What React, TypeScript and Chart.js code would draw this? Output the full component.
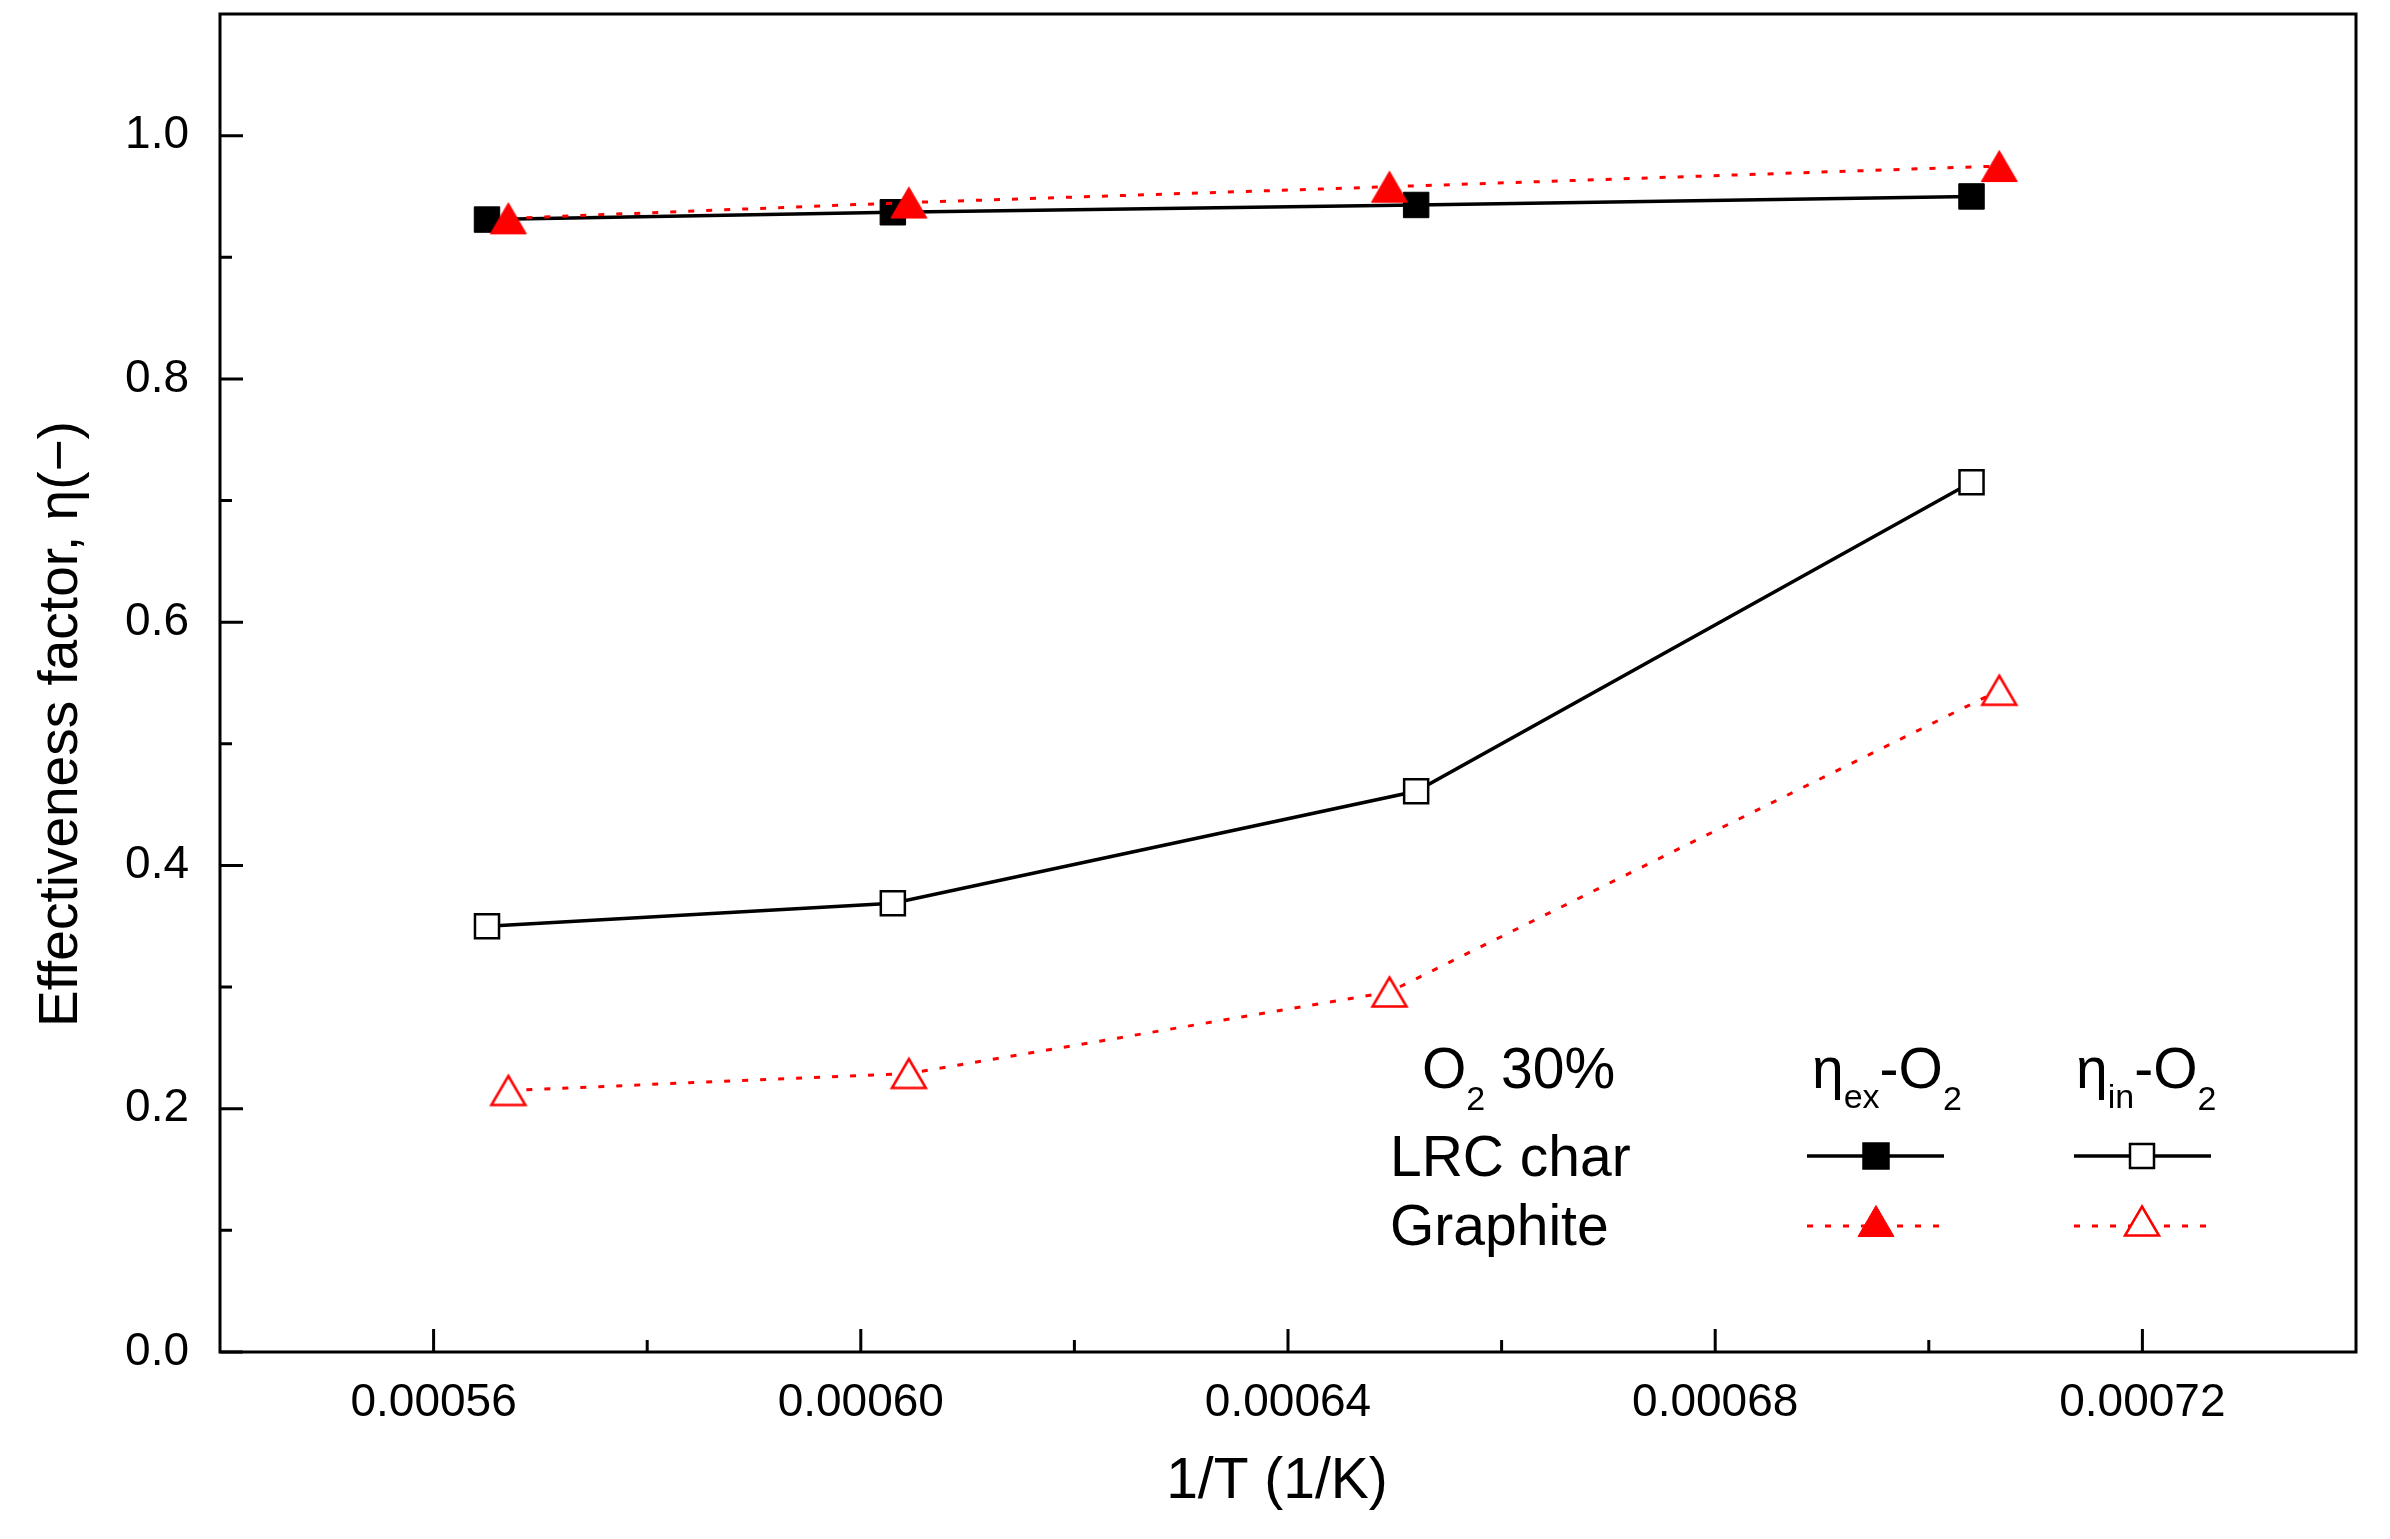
import React, { useEffect, useRef } from 'react';
import { Chart, registerables } from 'chart.js';
import type { ChartConfiguration } from 'chart.js';

Chart.register(...registerables);

// 1/T (1/K) of each run
const lrcX = [0.000565, 0.000603, 0.000652, 0.000704];
const graphiteX = [0.000567, 0.0006045, 0.0006495, 0.0007066];

// effectiveness factors
const lrcEtaEx = [0.931, 0.937, 0.943, 0.95];
const graphiteEtaEx = [0.932, 0.945, 0.958, 0.975];
const lrcEtaIn = [0.35, 0.369, 0.461, 0.715];
const graphiteEtaIn = [0.215, 0.229, 0.296, 0.544];

// axis ticks
const xMajorTicks = [0.00056, 0.0006, 0.00064, 0.00068, 0.00072];
const xMinorTicks = [0.00058, 0.00062, 0.00066, 0.0007];
const yMajorTicks = [0, 0.2, 0.4, 0.6, 0.8, 1.0];
const yMinorTicks = [0.1, 0.3, 0.5, 0.7, 0.9];

const FONT = '"Liberation Sans", Arial, sans-serif';
const RED = '#ff0000';
const DOTS = [6, 12];

const toPoints = (xs: number[], ys: number[]) => xs.map((x, i) => ({ x, y: ys[i] }));

const drawRuns = (ctx: CanvasRenderingContext2D, x: number, y: number, runs: [string, number, number][]) => {
  let cx = x;
  for (const [text, size, dy] of runs) {
    ctx.font = `${size}px ${FONT}`;
    ctx.fillText(text, cx, y + dy);
    cx += ctx.measureText(text).width;
  }
};

const drawSquare = (ctx: CanvasRenderingContext2D, cx: number, cy: number, side: number, filled: boolean) => {
  ctx.beginPath();
  ctx.rect(cx - side / 2, cy - side / 2, side, side);
  ctx.fillStyle = filled ? '#000' : '#fff';
  ctx.fill();
  ctx.strokeStyle = '#000';
  ctx.lineWidth = 2.5;
  ctx.setLineDash([]);
  ctx.stroke();
};

// triangle centred on its bounding box, like Origin's symbol
const drawTriangle = (ctx: CanvasRenderingContext2D, cx: number, cy: number, filled: boolean, w = 34, h = 29) => {
  ctx.beginPath();
  ctx.moveTo(cx, cy - h / 2);
  ctx.lineTo(cx + w / 2, cy + h / 2);
  ctx.lineTo(cx - w / 2, cy + h / 2);
  ctx.closePath();
  ctx.fillStyle = filled ? RED : '#fff';
  ctx.fill();
  ctx.strokeStyle = RED;
  ctx.lineWidth = filled ? 1 : 2.5;
  ctx.setLineDash([]);
  ctx.stroke();
};

const makeTriangleSymbol = (filled: boolean) => {
  const c = document.createElement('canvas');
  c.width = 40;
  c.height = 36;
  const g = c.getContext('2d');
  if (g) drawTriangle(g, 20, 18, filled, filled ? 36 : 34, filled ? 31 : 29);
  return c;
};

const drawSample = (ctx: CanvasRenderingContext2D, x0: number, x1: number, y: number, color: string, dash: number[]) => {
  ctx.beginPath();
  ctx.moveTo(x0, y);
  ctx.lineTo(x1, y);
  ctx.strokeStyle = color;
  ctx.lineWidth = color === RED ? 3 : 3.5;
  ctx.setLineDash(dash);
  ctx.stroke();
  ctx.setLineDash([]);
};

const originFrame = {
  id: 'originFrame',
  afterDraw(chart: Chart) {
    const { ctx, chartArea: a } = chart;
    const xs = chart.scales.x;
    const ys = chart.scales.y;
    ctx.save();

    // box and inward ticks
    ctx.strokeStyle = '#000';
    ctx.lineWidth = 3;
    ctx.strokeRect(a.left, a.top, a.right - a.left, a.bottom - a.top);
    ctx.beginPath();
    xMajorTicks.forEach((v) => {
      const px = xs.getPixelForValue(v);
      ctx.moveTo(px, a.bottom);
      ctx.lineTo(px, a.bottom - 23);
    });
    xMinorTicks.forEach((v) => {
      const px = xs.getPixelForValue(v);
      ctx.moveTo(px, a.bottom);
      ctx.lineTo(px, a.bottom - 12);
    });
    yMajorTicks.forEach((v) => {
      const py = ys.getPixelForValue(v);
      ctx.moveTo(a.left, py);
      ctx.lineTo(a.left + 23, py);
    });
    yMinorTicks.forEach((v) => {
      const py = ys.getPixelForValue(v);
      ctx.moveTo(a.left, py);
      ctx.lineTo(a.left + 12, py);
    });
    ctx.stroke();

    // axis titles
    ctx.fillStyle = '#000';
    ctx.textBaseline = 'alphabetic';
    ctx.textAlign = 'center';
    ctx.font = `57px ${FONT}`;
    ctx.fillText('1/T (1/K)', 1277, 1498);
    ctx.save();
    ctx.translate(77, 724);
    ctx.rotate(-Math.PI / 2);
    ctx.font = `55px ${FONT}`;
    ctx.fillText('Effectiveness factor, \u03b7(\u2212)', 0, 0);
    ctx.restore();

    // legend table
    ctx.textAlign = 'left';
    ctx.fillStyle = '#000';
    drawRuns(ctx, 1422, 1088, [['O', 57, 0], ['2', 34, 22], [' 30%', 57, 0]]);
    drawRuns(ctx, 1812, 1088, [['\u03b7', 57, 0], ['ex', 34, 20], ['-O', 57, 0], ['2', 34, 22]]);
    drawRuns(ctx, 2076, 1088, [['\u03b7', 57, 0], ['in', 34, 20], ['-O', 57, 0], ['2', 34, 22]]);
    drawRuns(ctx, 1390, 1176, [['LRC char', 57, 0]]);
    drawRuns(ctx, 1390, 1245, [['Graphite', 57, 0]]);

    drawSample(ctx, 1807, 1944, 1156, '#000', []);
    drawSquare(ctx, 1876, 1156, 25, true);
    drawSample(ctx, 2074, 2211, 1156, '#000', []);
    drawSquare(ctx, 2142, 1156, 24, false);

    drawSample(ctx, 1807, 1941, 1226, RED, DOTS);
    drawTriangle(ctx, 1876, 1221, true, 36, 31);
    drawSample(ctx, 2074, 2208, 1226, RED, DOTS);
    drawTriangle(ctx, 2142, 1221, false);

    ctx.restore();
  },
};

const App: React.FC = () => {
  const chartRef = useRef<HTMLCanvasElement>(null);
  const chartInstanceRef = useRef<Chart | null>(null);

  useEffect(() => {
    if (!chartRef.current) return;
    if (chartInstanceRef.current) chartInstanceRef.current.destroy();
    const ctx = chartRef.current.getContext('2d');
    if (!ctx) return;

    const tickFont = { family: FONT, size: 46 };
    const solidTriangle = makeTriangleSymbol(true);
    const openTriangle = makeTriangleSymbol(false);

    const config: ChartConfiguration<'scatter'> = {
      type: 'scatter',
      data: {
        datasets: [
          {
            label: 'Graphite eta_ex',
            data: toPoints(graphiteX, graphiteEtaEx),
            showLine: true,
            borderColor: RED,
            borderWidth: 3,
            borderDash: DOTS,
            pointStyle: solidTriangle,
            pointRadius: 20,
            order: 0,
          },
          {
            label: 'Graphite eta_in',
            data: toPoints(graphiteX, graphiteEtaIn),
            showLine: true,
            borderColor: RED,
            borderWidth: 3,
            borderDash: DOTS,
            pointStyle: openTriangle,
            pointRadius: 19,
            order: 0,
          },
          {
            label: 'LRC char eta_ex',
            data: toPoints(lrcX, lrcEtaEx),
            showLine: true,
            borderColor: '#000',
            borderWidth: 3.5,
            pointStyle: 'rect',
            pointRadius: 18,
            pointBackgroundColor: '#000',
            pointBorderColor: '#000',
            pointBorderWidth: 1,
            order: 1,
          },
          {
            label: 'LRC char eta_in',
            data: toPoints(lrcX, lrcEtaIn),
            showLine: true,
            borderColor: '#000',
            borderWidth: 3.5,
            pointStyle: 'rect',
            pointRadius: 17,
            pointBackgroundColor: '#fff',
            pointBorderColor: '#000',
            pointBorderWidth: 2.5,
            order: 1,
          },
        ],
      },
      options: {
        animation: false,
        responsive: true,
        maintainAspectRatio: false,
        layout: { autoPadding: false, padding: { top: 14, right: 34, left: 0, bottom: 0 } },
        plugins: {
          legend: { display: false },
          tooltip: { enabled: false },
        },
        scales: {
          x: {
            type: 'linear',
            min: 0.00054,
            max: 0.00074,
            grid: { display: false, drawTicks: false },
            border: { display: false },
            afterBuildTicks: (s: any) => {
              s.ticks = xMajorTicks.map((value) => ({ value }));
            },
            afterFit: (s: any) => {
              s.height = 187;
              s.paddingLeft = 0;
              s.paddingRight = 0;
            },
            ticks: {
              font: tickFont,
              color: '#000',
              padding: 24,
              maxRotation: 0,
              autoSkip: false,
              callback: (v: any) => Number(v).toFixed(5),
            },
          },
          y: {
            type: 'linear',
            min: 0,
            max: 1.1,
            grid: { display: false, drawTicks: false },
            border: { display: false },
            afterBuildTicks: (s: any) => {
              s.ticks = yMajorTicks.map((value) => ({ value }));
            },
            afterFit: (s: any) => {
              s.width = 220;
              s.paddingTop = 0;
              s.paddingBottom = 0;
            },
            ticks: {
              font: tickFont,
              color: '#000',
              padding: 31,
              autoSkip: false,
              callback: (v: any) => Number(v).toFixed(1),
            },
          },
        },
      },
      plugins: [originFrame],
    };

    chartInstanceRef.current = new Chart(ctx, config);

    return () => {
      if (chartInstanceRef.current) {
        chartInstanceRef.current.destroy();
        chartInstanceRef.current = null;
      }
    };
  }, []);

  return (
    <div style={{ position: 'absolute', left: 0, top: 0, width: '2390px', height: '1539px', background: '#fff' }}>
      <canvas ref={chartRef}></canvas>
    </div>
  );
};

export default App;
